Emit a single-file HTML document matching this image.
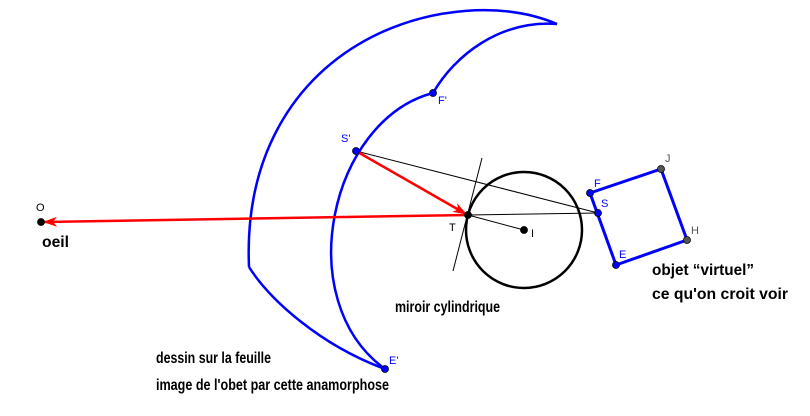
<!DOCTYPE html>
<html><head><meta charset="utf-8"><style>
html,body{margin:0;padding:0;background:#fff;}
svg{display:block;}
.b{font-family:"Liberation Sans",sans-serif;font-weight:bold;font-size:16px;fill:#000;}
.l{font-family:"Liberation Sans",sans-serif;font-size:11px;}
</style></head><body>
<svg width="810" height="416" viewBox="0 0 810 416" xmlns="http://www.w3.org/2000/svg">
<defs>
<marker id="ar2" markerWidth="14" markerHeight="10" refX="13" refY="5" orient="auto" markerUnits="userSpaceOnUse"><path d="M0,0 L14,5 L0,10 L4,5 Z" fill="#f00"/></marker>
</defs>
<g fill="none" stroke="#0000ff" stroke-width="2.5">
<path d="M249,267 C244,150 300,70 380,33 C430,10 500,0 557,24"/>
<path d="M557,24 C500,20 455,55 433,93"/>
<path d="M433,93 C330,120 290,300 385,369"/>
<path d="M385,369 C320,345 270,300 249,267"/>
</g>
<circle cx="524" cy="230" r="58" fill="none" stroke="#000" stroke-width="2.5"/>
<line x1="482" y1="158" x2="453" y2="271" stroke="#000" stroke-width="1"/>
<line x1="468" y1="215" x2="524" y2="230" stroke="#000" stroke-width="1"/>
<line x1="356" y1="151" x2="598" y2="213" stroke="#000" stroke-width="1"/>
<line x1="468" y1="215" x2="598" y2="213" stroke="#000" stroke-width="1"/>
<line x1="468" y1="215" x2="44" y2="222" stroke="#f00" stroke-width="2.5" marker-end="url(#ar2)"/>
<line x1="356" y1="151" x2="466" y2="214" stroke="#f00" stroke-width="2.5" marker-end="url(#ar2)"/>
<polygon points="590,193 661,169 687,240 616,265" fill="none" stroke="#0000ff" stroke-width="3"/>
<g stroke="#000" stroke-width="0.8">
<circle cx="41" cy="222" r="3.5" fill="#000"/>
<circle cx="468" cy="215" r="3.5" fill="#000"/>
<circle cx="524" cy="230" r="3.5" fill="#000"/>
<circle cx="356" cy="151" r="3.5" fill="#0000ff"/>
<circle cx="433" cy="93" r="3.5" fill="#0000ff"/>
<circle cx="385" cy="369" r="3.5" fill="#0000ff"/>
<circle cx="590" cy="193" r="3.5" fill="#0000ff"/>
<circle cx="598" cy="213" r="3.5" fill="#0000ff"/>
<circle cx="616" cy="265" r="3.5" fill="#0000ff"/>
<circle cx="661" cy="169" r="3.5" fill="#555"/>
<circle cx="687" cy="240" r="3.5" fill="#555"/>
</g>
<text class="l" x="36" y="211" fill="#000">O</text>
<text class="l" x="449" y="231" fill="#000">T</text>
<text class="l" x="531" y="237" fill="#000">I</text>
<text class="l" x="341" y="142" fill="#0000ff">S'</text>
<text class="l" x="438" y="104" fill="#0000ff">F'</text>
<text class="l" x="389" y="364" fill="#0000ff">E'</text>
<text class="l" x="594" y="187" fill="#0000ff">F</text>
<text class="l" x="601" y="207" fill="#0000ff">S</text>
<text class="l" x="619" y="258" fill="#0000ff">E</text>
<text class="l" x="665" y="162" fill="#555">J</text>
<text class="l" x="691" y="234" fill="#555">H</text>
<text class="b" x="42" y="247" textLength="27" lengthAdjust="spacingAndGlyphs">oeil</text>
<text class="b" x="395" y="312" textLength="105" lengthAdjust="spacingAndGlyphs">miroir cylindrique</text>
<text class="b" x="652" y="275" textLength="102" lengthAdjust="spacingAndGlyphs">objet “virtuel”</text>
<text class="b" x="652" y="299" textLength="136" lengthAdjust="spacingAndGlyphs">ce qu'on croit voir</text>
<text class="b" x="156" y="363" textLength="115" lengthAdjust="spacingAndGlyphs">dessin sur la feuille</text>
<text class="b" x="156" y="390" textLength="233" lengthAdjust="spacingAndGlyphs">image de l'obet par cette anamorphose</text>
</svg>
</body></html>
